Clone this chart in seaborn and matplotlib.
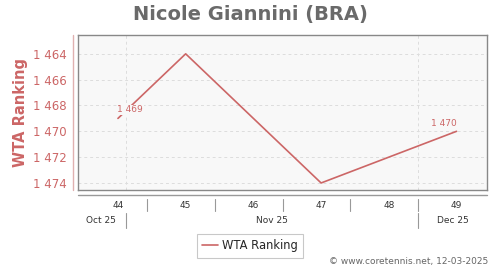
import matplotlib
matplotlib.use("Agg")
import matplotlib.pyplot as plt
import matplotlib.transforms as mtransforms
import seaborn as sns
import pandas as pd

weeks = [44, 45, 47, 49]
ranking = [1469, 1464, 1474, 1470]
week_ticks = [44, 45, 46, 47, 48, 49]
y_ticks = [1464, 1466, 1468, 1470, 1472, 1474]
months = ["Oct 25", "Nov 25", "Dec 25"]
month_pos = [43.75, 46.27, 48.95]
month_bounds = [44.12, 48.43]
labelled = [(44, 1469, 0.18, -0.66), (49, 1470, -0.18, -0.57)]

sns.set_theme(style="white")
plt.rcParams['font.family'] = ['DejaVu Sans']

LINE = "#cc6666"
fig = plt.figure(figsize=(5, 2.7), dpi=100)
ax = fig.add_axes([0.156, 0.296, 0.818, 0.574])
ax.set_facecolor("#f8f8f8")

df = pd.DataFrame({"week": weeks, "rank": ranking})
sns.lineplot(data=df, x="week", y="rank", ax=ax, color=LINE, linewidth=1.2, label="WTA Ranking")

ax.set_xlim(43.41, 49.45)
ax.set_ylim(1474.55, 1462.55)
ax.set_yticks(y_ticks)
ax.set_yticklabels([f"{v:,}".replace(",", " ") for v in y_ticks], color=LINE, fontsize=8.5)
ax.set_xticks(week_ticks)
ax.set_xticklabels([])
ax.tick_params(axis="both", length=0)
ax.tick_params(axis="y", pad=8)
for y in y_ticks:
    ax.axhline(y, color="#dddddd", linestyle=(0, (3, 3)), linewidth=0.7, zorder=0)
for x in month_bounds:
    ax.axvline(x, color="#dddddd", linestyle=(0, (3, 3)), linewidth=0.7, zorder=0)
for s in ax.spines.values():
    s.set_color("#888888")
    s.set_linewidth(1.0)

ax.set_xlabel("")
ax.set_ylabel("WTA Ranking", color=LINE, fontsize=10.5, fontweight="bold", labelpad=4)

for w, r, dx, dy in labelled:
    ax.text(w + dx, r + dy, f"{r:,}".replace(",", " "), color=LINE, fontsize=6.5,
            ha="center", va="center",
            bbox=dict(facecolor="#f8f8f8", edgecolor="none", pad=0.5))

trans = mtransforms.blended_transform_factory(ax.transData, ax.transAxes)
transy = mtransforms.blended_transform_factory(ax.transAxes, ax.transAxes)
# lower axis line
ax.plot([0, 1], [-0.032, -0.032], transform=transy, color="#999999", linewidth=1, clip_on=False)
# left axis line
ax.plot([-0.012, -0.012], [0, 1.0], transform=transy, color="#e0b0b0", linewidth=1, clip_on=False)
for w in week_ticks:
    ax.text(w, -0.097, str(w), transform=trans, ha="center", va="center", fontsize=6.5, color="#333333")
for w in week_ticks[:-1]:
    ax.plot([w + 0.43, w + 0.43], [-0.06, -0.135], transform=trans, color="#999999", linewidth=0.8, clip_on=False)
for m, p in zip(months, month_pos):
    ax.text(p, -0.197, m, transform=trans, ha="center", va="center", fontsize=6.5, color="#333333")
for x in month_bounds:
    ax.plot([x, x], [-0.148, -0.245], transform=trans, color="#999999", linewidth=0.8, clip_on=False)

leg = ax.legend(loc="center", bbox_to_anchor=(0.4205, -0.36), frameon=True, fontsize=8.3,
                handlelength=1.4, handletextpad=0.4, borderpad=0.45, fancybox=False)
leg.get_frame().set_edgecolor("#bbbbbb")
leg.get_frame().set_linewidth(0.8)

fig.text(0.5, 0.945, "Nicole Giannini (BRA)", ha="center", va="center", fontsize=14,
         fontweight="bold", color="#6a6a6a")
fig.text(0.976, 0.03, "© www.coretennis.net, 12-03-2025", ha="right", va="center",
         fontsize=6.5, color="#666666")

fig.savefig("out.png", dpi=100)
